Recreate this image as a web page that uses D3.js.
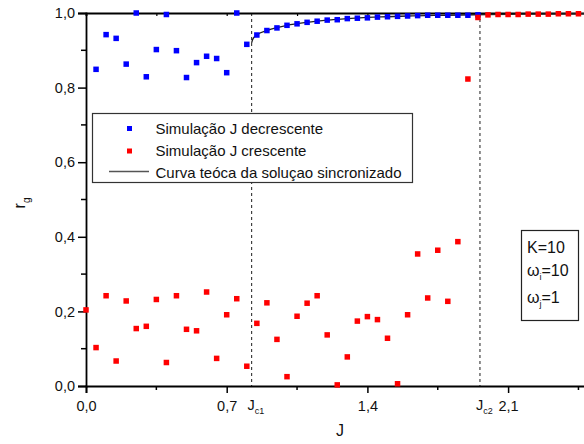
<!DOCTYPE html>
<html>
<head>
<meta charset="utf-8">
<script src="https://cdn.jsdelivr.net/npm/d3@7"></script>
<style>
  body { margin: 0; background: #fff; }
  svg { font-family: "Liberation Sans", Arial, sans-serif; }
</style>
</head>
<body>
<div class="grafico"></div>
<script>
// dados
var jDecrescente = [0.05,0.10,0.15,0.20,0.25,0.30,0.35,0.40,0.45,0.50,0.55,0.60,0.65,0.70,0.75,0.80,0.85,0.90,0.95,1.00,
  1.05,1.10,1.15,1.20,1.25,1.30,1.35,1.40,1.45,1.50,1.55,1.60,1.65,1.70,1.75,1.80,1.85,1.90,1.95];
var rDecrescente = [0.849,0.942,0.932,0.863,1.000,0.829,0.902,0.996,0.899,0.827,0.867,0.884,0.878,0.840,1.000,0.916,0.941,0.953,0.960,0.967,
  0.971,0.975,0.978,0.981,0.982,0.985,0.986,0.987,0.989,0.990,0.991,0.992,0.993,0.994,0.994,0.994,0.994,0.994,0.995];

var jCrescente = [0.00,0.05,0.10,0.15,0.20,0.25,0.30,0.35,0.40,0.45,0.50,0.55,0.60,0.65,0.70,0.75,0.80,0.85,0.90,0.95,
  1.00,1.05,1.10,1.15,1.20,1.25,1.30,1.35,1.40,1.45,1.50,1.55,1.60,1.65,1.70,1.75,1.80,1.85,1.90,1.95,
  2.00,2.05,2.10,2.15,2.20,2.25,2.30,2.35,2.40,2.45];
var rCrescente = [0.204,0.103,0.242,0.067,0.228,0.154,0.160,0.232,0.063,0.242,0.152,0.148,0.252,0.074,0.191,0.234,0.053,0.168,0.223,0.125,
  0.025,0.187,0.222,0.242,0.137,0.003,0.078,0.174,0.186,0.178,0.128,0.006,0.191,0.354,0.236,0.364,0.227,0.387,0.823,0.988,
  0.995,0.996,0.996,0.996,0.997,0.997,0.997,0.998,0.998,0.998];

var jCurva = [0.824,0.83,0.85,0.90,0.95,1.00,1.10,1.20,1.30,1.40,1.50,1.60,1.80,2.00,2.20,2.50];
var rCurva = [0.920,0.930,0.941,0.953,0.961,0.967,0.975,0.981,0.985,0.988,0.990,0.992,0.994,0.996,0.997,0.998];

var jCriticos = [0.824, 1.96];
var rotulosCriticos = ["c1", "c2"];

var xTicks = [0, 0.7, 1.4, 2.1];
var xTickLabels = ["0,0", "0,7", "1,4", "2,1"];
var xMinor = [0.35, 1.05, 1.75, 2.45];
var yTicks = [0, 0.2, 0.4, 0.6, 0.8, 1.0];
var yTickLabels = ["0,0", "0,2", "0,4", "0,6", "0,8", "1,0"];
var yMinor = [0.1, 0.3, 0.5, 0.7, 0.9];

var legendaTextos = ["Simulação J decrescente", "Simulação J crescente", "Curva teóca da soluçao sincronizado"];

var W = 584, H = 444;
var x0 = 86, yTop = 13, yBot = 386;

var xScale = d3.scaleLinear().domain([0, 2.5]).range([x0, x0 + 2.5 * 201]);
var yScale = d3.scaleLinear().domain([0, 1]).range([yBot, yTop]);

var svg = d3.select(".grafico").append("svg")
  .attr("width", W).attr("height", H);

// linhas tracejadas J_c
svg.selectAll(".crit").data(jCriticos).enter().append("line")
  .attr("x1", function(d) { return xScale(d); })
  .attr("x2", function(d) { return xScale(d); })
  .attr("y1", yTop).attr("y2", yBot)
  .attr("stroke", "#333").attr("stroke-width", 1.1)
  .attr("stroke-dasharray", "3,3");

// eixo X
var eixoX = svg.append("g").attr("transform", "translate(0," + yBot + ")")
  .call(d3.axisBottom(xScale).tickValues(xTicks).tickSize(7)
    .tickFormat(function(d, i) { return xTickLabels[i]; }));
eixoX.append("g").selectAll("line").data(xMinor).enter().append("line")
  .attr("x1", function(d) { return xScale(d); }).attr("x2", function(d) { return xScale(d); })
  .attr("y1", 0).attr("y2", 4).attr("stroke", "#000").attr("stroke-width", 1.5);

// eixo Y
var eixoY = svg.append("g").attr("transform", "translate(" + x0 + ",0)")
  .call(d3.axisLeft(yScale).tickValues(yTicks).tickSize(8)
    .tickFormat(function(d, i) { return yTickLabels[i]; }));
eixoY.append("g").selectAll("line").data(yMinor).enter().append("line")
  .attr("y1", function(d) { return yScale(d); }).attr("y2", function(d) { return yScale(d); })
  .attr("x1", 0).attr("x2", -5).attr("stroke", "#000").attr("stroke-width", 1.5);

[eixoX, eixoY].forEach(function(g) {
  g.select(".domain").attr("stroke-width", 1.8).attr("stroke", "#000");
  g.selectAll(".tick line").attr("stroke-width", 1.5);
  g.selectAll(".tick text").attr("font-size", 14.5).attr("fill", "#111")
    .attr("font-family", "Liberation Sans, Arial, sans-serif");
});
eixoX.selectAll(".tick text").attr("dy", "1.05em");

// eixo de cima
var eixoTopo = svg.append("g").attr("transform", "translate(0," + yTop + ")")
  .call(d3.axisTop(xScale).tickValues(xTicks.concat(xMinor)).tickSize(-3).tickFormat(""));
eixoTopo.select(".domain").attr("stroke-width", 1.8);
eixoTopo.selectAll(".tick line").attr("stroke-width", 1.2);

// rotulos J_c
jCriticos.forEach(function(j, i) {
  var t = svg.append("text").attr("x", xScale(j) - 4).attr("y", 410)
    .attr("font-size", 14.5).attr("fill", "#111");
  t.append("tspan").text("J");
  t.append("tspan").attr("font-size", 9).attr("dy", 4).text(rotulosCriticos[i]);
});

// curva teorica
var linha = d3.line()
  .x(function(d) { return xScale(d.x); })
  .y(function(d) { return yScale(d.y); })
  .curve(d3.curveMonotoneX);
var dadosCurva = jCurva.map(function(j, i) { return { x: j, y: rCurva[i] }; });
svg.append("path").datum(dadosCurva)
  .attr("fill", "none").attr("stroke", "#222").attr("stroke-width", 1.3)
  .attr("d", linha);

// pontos
var lado = 5.5;
svg.selectAll(".azul").data(jDecrescente).enter().append("rect")
  .attr("x", function(d) { return xScale(d) - lado / 2; })
  .attr("y", function(d, i) { return yScale(rDecrescente[i]) - lado / 2; })
  .attr("width", lado).attr("height", lado).attr("fill", "#0000ff");
svg.selectAll(".verm").data(jCrescente).enter().append("rect")
  .attr("x", function(d) { return xScale(d) - lado / 2; })
  .attr("y", function(d, i) { return yScale(rCrescente[i]) - lado / 2; })
  .attr("width", lado).attr("height", lado).attr("fill", "#ff0000");

// legenda
var leg = svg.append("g");
leg.append("rect").attr("x", 92.5).attr("y", 113.5).attr("width", 320).attr("height", 69)
  .attr("fill", "#fff").attr("stroke", "#333").attr("stroke-width", 1.2);
leg.append("rect").attr("x", 127).attr("y", 126).attr("width", 5).attr("height", 5).attr("fill", "#0000ff");
leg.append("rect").attr("x", 127).attr("y", 148.5).attr("width", 5).attr("height", 5).attr("fill", "#ff0000");
leg.append("line").attr("x1", 109).attr("x2", 149).attr("y1", 171.5).attr("y2", 171.5)
  .attr("stroke", "#555").attr("stroke-width", 1.3);
leg.selectAll(".lt").data(legendaTextos).enter().append("text")
  .attr("x", 155.5).attr("y", function(d, i) { return 134.3 + i * 22; })
  .attr("font-size", 15).attr("fill", "#111").text(function(d) { return d; });

// caixa de parametros
var cx = svg.append("g");
cx.append("rect").attr("x", 521.5).attr("y", 230.5).attr("width", 57).attr("height", 90)
  .attr("fill", "#fff").attr("stroke", "#222").attr("stroke-width", 1.2);
cx.append("text").attr("x", 527).attr("y", 253).attr("font-size", 16).attr("fill", "#111").text("K=10");
var w1 = cx.append("text").attr("x", 527).attr("y", 276).attr("font-size", 16).attr("fill", "#111");
w1.append("tspan").text("ω");
w1.append("tspan").attr("font-size", 9).attr("dy", 4).text("i");
w1.append("tspan").attr("dy", -4).text("=10");
var w2 = cx.append("text").attr("x", 527).attr("y", 303).attr("font-size", 16).attr("fill", "#111");
w2.append("tspan").text("ω");
w2.append("tspan").attr("font-size", 9).attr("dy", 4).text("j");
w2.append("tspan").attr("dy", -4).text("=1");

// titulos dos eixos
svg.append("text").attr("x", 340).attr("y", 436).attr("text-anchor", "middle")
  .attr("font-size", 16).attr("fill", "#111").text("J");
var ry = svg.append("text").attr("transform", "translate(25,203) rotate(-90)")
  .attr("text-anchor", "middle").attr("font-size", 16).attr("fill", "#111");
ry.append("tspan").text("r");
ry.append("tspan").attr("font-size", 10).attr("dy", 5).text("g");
</script>
</body>
</html>
